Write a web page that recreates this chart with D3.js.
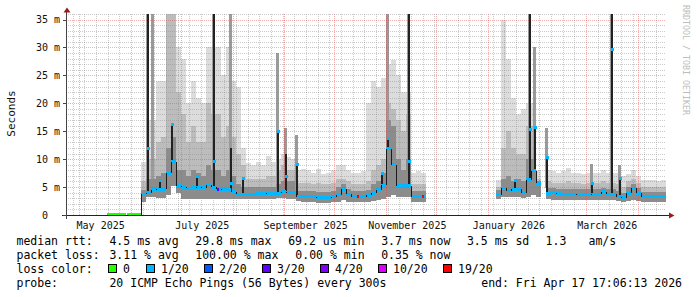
<!DOCTYPE html>
<html><head><meta charset="utf-8">
<script src="https://cdn.jsdelivr.net/npm/d3@7"></script>
<style>html,body{margin:0;padding:0;background:#fff}svg{display:block}text{font-family:"DejaVu Sans Mono",monospace}</style>
</head><body><svg id="c" width="697" height="297"></svg>
<script>
// ---- data ----
const startTime = "2025-04-22T17:06:13Z";
const endTime = "2026-04-17T17:06:13Z";
const firstColumn = "2025-06-06T12:00:00Z";
const columnDays = 3;
const N = null;
const median = [3.7,4.0,4.5,4.6,4.6,7.5,9.5,5.2,5.0,4.8,
 4.9,5.0,4.9,5.4,5.0,4.6,4.5,4.5,4.2,3.7,
 3.7,3.7,3.7,3.8,3.8,3.9,3.9,3.9,4.2,4.0,
 4.0,3.3,3.3,3.3,3.3,3.1,3.1,3.1,3.3,3.6,
 4.6,3.7,3.3,3.3,3.3,3.5,3.9,4.5,5.3,11.9,
 9,5.2,5.2,5.2,3.3,3.3,3.3,
 N,N,N,N,N,N,N,N,N,N,N,N,N,N,
 3.6,4.8,4.3,4.6,4.6,4.0,6.3,7.9,5.7,
 N,
 3.9,4.0,3.8,3.7,3.7,3.7,3.6,3.6,3.6,
 3.7,3.7,4.2,3.7,3.7,3.3,3.1,3.9,4.8,3.9,
 3.3,3.3,3.3,3.3,3.3,3.3];
const smokeLow = [2.4,3.2,3.2,3.0,3.0,3.5,5.2,4.0,2.8,2.8,
 2.8,2.8,2.8,2.8,2.8,2.8,2.8,2.8,2.8,2.8,
 2.8,2.8,2.8,2.8,2.8,2.8,2.8,3.0,3.0,2.8,
 2.8,2.5,2.3,2.3,2.3,2.2,2.2,2.2,2.3,2.4,
 2.6,2.4,2.3,2.3,2.3,2.4,2.5,2.7,2.8,3.2,
 3.5,3.3,3.3,3.3,2.4,2.4,2.4,
 N,N,N,N,N,N,N,N,N,N,N,N,N,N,
 2.8,3.2,3.2,3.2,3.2,3.0,3.2,3.5,3.2,
 N,
 2.8,2.6,2.6,2.6,2.6,2.6,2.6,2.6,2.6,
 2.6,2.6,2.6,2.6,2.6,2.5,2.4,2.5,2.6,2.5,
 2.4,2.4,2.4,2.4,2.4,2.4];
const smokeDark = [4.5,6.5,6.5,7,7.5,12,14,8,8,7,
 8,7.5,7,9,8,8,7,8,7,5.5,
 5,5,5,5,5,5,5,5.5,6,6,
 6,4.3,4.3,4.3,4.3,4.2,4.2,4.2,4.3,5,
 5.5,4.6,4.3,4.3,4.3,4.5,5.5,6,7.5,17,
 16,10,8,10,4.3,4.3,4.3,
 N,N,N,N,N,N,N,N,N,N,N,N,N,N,
 4.5,6.5,7,6,6.5,6,10,10,6,
 N,
 4.8,4.8,4.7,4.7,4.7,4.7,4.6,4.6,4.6,
 4.6,4.6,4.8,4.6,4.6,4.3,4.0,5,5.5,4.8,
 4.2,4.2,4.2,4.2,4.2,4.2];
const smokeMid = [6,10,10,13,14,36,36,22,18,13,
 16,13,13,20,18,18,14,16,14,11,
 9,6.5,6.5,6.5,6.5,7,7,8,9,8,
 8,5.7,5.7,5.7,5.6,5.8,5.5,5.6,5.7,6.5,
 6.5,6,5.5,5.5,5.5,6,8,9,10,20,
 19,17,15,18,5.5,5.6,5.5,
 N,N,N,N,N,N,N,N,N,N,N,N,N,N,
 5,12,15,12,11,11,16,16,6.5,
 N,
 6,5.8,5.8,5.8,6,5.8,5.7,5.6,5.7,
 5.7,5.7,6,5.7,5.7,5.5,5,6,6.5,5.8,
 5,5,5,5,5,5];
const smokeHigh = [9.5,17,17,24,24,36,36,30,28,20,
 24,21,20,30,30,30,25,30,24,23,
 12,9.3,9,9.5,9,10.5,9.5,10,11,10.4,
 10,8,8.3,8.0,7.5,8.2,7.3,7.6,8.0,9,
 9,8,7.5,7.5,7.8,20,24,23,24.5,27,
 27.7,25,22,22,7.5,7.8,7.5,
 N,N,N,N,N,N,N,N,N,N,N,N,N,N,
 6.3,35,28,21,18,19,20,20,8,
 N,
 8,7.8,7.5,7.8,8.4,7.5,7.5,7.3,7.5,
 7.5,7.5,8,7.5,7.5,7.5,7,7.3,8,7,
 6.3,6.2,6.3,6.0,6.2,6.2];
// short-lived spikes (narrower than a column)
const spikeDates = ["2025-06-10T12:00Z","2025-06-13T12:00Z","2025-06-17T14:00Z","2025-06-24T14:00Z","2025-07-09T14:00Z",
 "2025-07-20T02:00Z","2025-07-30T00:00Z","2025-08-06T05:00Z","2025-08-27T12:00Z","2025-09-01T00:00Z","2025-09-07T14:00Z",
 "2025-10-28T14:00Z","2025-11-01T05:00Z","2025-11-14T02:00Z","2026-01-16T17:00Z","2026-01-25T17:00Z","2026-01-28T17:00Z",
 "2026-02-04T14:00Z","2026-03-03T14:00Z","2026-03-15T14:00Z","2026-03-20T17:00Z"];
const spikeMedian = [12,N,6.3,16.3,7.0,9.7,5.8,6.6,15,7,9.2,7.5,13.7,9.7,6.3,15.4,15.7,10.4,5.8,29.8,6.6];
const spikeDark = [36,N,6.3,16.3,7.0,36,12,6.6,15,11,9.2,7.5,14,36,6.3,36,15.7,10.4,5.8,36,6.6];
const spikeGray = [36,36,N,N,N,36,36,N,29,15.5,14.3,N,36,36,N,36,30,15.5,9.2,36,9];
const lossMarks = [[15,3],[43,6],[56,6]];   // [column, loss class]
const zeroLossSpans = [["2025-05-17T12:00:00Z","2025-05-29T00:00:00Z"],["2025-05-29T14:00:00Z","2025-06-06T12:00:00Z"]];
const yTicks = [0,5,10,15,20,25,30,35];
const yTickLabels = ["0","5 m","10 m","15 m","20 m","25 m","30 m","35 m"];
const monthLabelDates = ["2025-05-01","2025-07-01","2025-09-01","2025-11-01","2026-01-01","2026-03-01"];
const monthLabels = ["May 2025","July 2025","September 2025","November 2025","January 2026","March 2026"];
const lossLegend = ["0","1/20","2/20","3/20","4/20","10/20","19/20"];
const lossColors = ["#26ff00","#00b8ff","#0059ff","#5e00ff","#7e00ff","#dd00ff","#ff0000"];
const rttStats = ["4.5 ms avg","29.8 ms max","69.2 us min","3.7 ms now","3.5 ms sd","1.3","am/s"];
const lossStats = ["3.11 % avg","100.00 % max","0.00 % min","0.35 % now"];
const probeText = "20 ICMP Echo Pings (56 Bytes) every 300s";
const endText = "end: Fri Apr 17 17:06:13 2026";

// ---- layout ----
const svg = d3.select("#c");
const L = 66, R = 666, TOP = 14, BOT = 215;
const x = d3.scaleUtc().domain([d3.isoParse(startTime), d3.isoParse(endTime)]).range([L, R]);
const y = d3.scaleLinear().domain([0, 35]).range([BOT, 19.5]);
const DAY = 864e5;
const c0 = +d3.isoParse(firstColumn);
const cols = median.map((m, i) => ({i, m, lo: smokeLow[i], dk: smokeDark[i], mid: smokeMid[i], hi: smokeHigh[i],
  a: new Date(c0 + i * columnDays * DAY), b: new Date(c0 + (i + 1) * columnDays * DAY)})).filter(d => d.m != null);
const px = t => Math.round(x(t));
const colAt = t => cols.find(c => +t >= +c.a && +t < +c.b);

svg.append("defs").append("clipPath").attr("id", "plot").append("rect")
  .attr("x", L).attr("y", TOP).attr("width", R - L).attr("height", BOT - TOP);

const g = svg.append("g").attr("clip-path", "url(#plot)").attr("shape-rendering", "crispEdges");
[["hi", "#dcdcdc"], ["mid", "#bcbcbc"], ["dk", "#8c8c8c"]].forEach(([k, c]) => {
  g.selectAll(null).data(cols).join("rect")
    .attr("x", d => px(d.a)).attr("width", d => px(d.b) - px(d.a))
    .attr("y", d => y(d[k])).attr("height", d => y(d.lo) - y(d[k])).attr("fill", c);
});
const spikes = spikeDates.map((s, i) => ({t: d3.isoParse(s), m: spikeMedian[i], dark: spikeDark[i], gray: spikeGray[i]}))
  .map(d => Object.assign(d, {col: colAt(d.t)}));
g.selectAll(null).data(spikes.filter(d => d.gray != null)).join("rect")
  .attr("x", d => px(d.t) - 1).attr("width", 3).attr("y", d => y(d.gray))
  .attr("height", d => y(d.col.dk) - y(d.gray)).attr("fill", "#9a9a9a");

// grid
const grid = svg.append("g").attr("shape-rendering", "crispEdges");
const minorY = d3.range(1, 37).filter(v => v % 5 !== 0);
grid.selectAll(null).data(minorY).join("line")
  .attr("x1", L).attr("x2", R).attr("y1", d => Math.round(y(d)) + 0.5).attr("y2", d => Math.round(y(d)) + 0.5)
  .attr("stroke", "rgba(140,140,140,0.45)").attr("stroke-dasharray", "1,1");
const weeks = d3.utcSunday.range(x.domain()[0], x.domain()[1]).filter(d => d.getUTCDate() !== 1);
grid.selectAll(null).data(weeks).join("line")
  .attr("x1", d => Math.floor(x(d)) + 0.5).attr("x2", d => Math.floor(x(d)) + 0.5).attr("y1", TOP).attr("y2", BOT)
  .attr("stroke", "rgba(140,140,140,0.45)").attr("stroke-dasharray", "1,1");
grid.selectAll(null).data(yTicks.slice(1)).join("line")
  .attr("x1", L).attr("x2", R).attr("y1", d => Math.round(y(d)) + 0.5).attr("y2", d => Math.round(y(d)) + 0.5)
  .attr("stroke", "rgba(225,70,70,0.42)").attr("stroke-dasharray", "1,1");
const months = d3.utcMonth.range(x.domain()[0], x.domain()[1]);
grid.selectAll(null).data(months).join("line")
  .attr("x1", d => Math.floor(x(d)) + 0.5).attr("x2", d => Math.floor(x(d)) + 0.5).attr("y1", TOP).attr("y2", BOT)
  .attr("stroke", "rgba(225,70,70,0.42)").attr("stroke-dasharray", "1,1");

// median
const med = svg.append("g").attr("clip-path", "url(#plot)").attr("shape-rendering", "crispEdges");
med.selectAll(null).data(spikes.filter(d => d.dark != null)).join("rect")
  .attr("x", d => px(d.t)).attr("width", 2).attr("y", d => y(d.dark))
  .attr("height", d => y(d.col.m) - y(d.dark)).attr("fill", "#222");
med.selectAll(null).data(cols).join("line")
  .attr("x1", d => px(d.a)).attr("x2", d => px(d.b)).attr("y1", d => y(d.m)).attr("y2", d => y(d.m))
  .attr("stroke", lossColors[1]).attr("stroke-width", 3);
const links = [];
cols.forEach((d, k) => { const n = cols[k + 1]; if (n && n.i === d.i + 1) links.push([d, n]); });
med.selectAll(null).data(links).join("line")
  .attr("x1", d => px(d[0].b) + 0.5).attr("x2", d => px(d[0].b) + 0.5)
  .attr("y1", d => y(d[0].m)).attr("y2", d => y(d[1].m)).attr("stroke", "#1c1c1c").attr("stroke-width", 1);
med.append("line").attr("x1", px(cols[0].a) + 0.5).attr("x2", px(cols[0].a) + 0.5)
  .attr("y1", y(0)).attr("y2", y(cols[0].m)).attr("stroke", "#1c1c1c");
med.selectAll(null).data(spikes.filter(d => d.m != null)).join("rect")
  .attr("x", d => px(d.t) - 0.5).attr("width", 3).attr("y", d => Math.round(y(d.m)) - 1).attr("height", 3)
  .attr("fill", lossColors[1]);
med.selectAll(null).data(lossMarks).join("rect")
  .attr("x", d => px(cols.find(c => c.i === d[0]).a) + 1).attr("width", 2)
  .attr("y", d => y(median[d[0]]) - 1.5).attr("height", 3).attr("fill", d => lossColors[d[1]]);
svg.selectAll(null).data(zeroLossSpans).join("line")
  .attr("x1", d => px(d3.isoParse(d[0]))).attr("x2", d => px(d3.isoParse(d[1])))
  .attr("y1", y(0) - 1).attr("y2", y(0) - 1).attr("stroke", lossColors[0]).attr("stroke-width", 2);

// axes
const ax = svg.append("g").attr("shape-rendering", "crispEdges");
ax.append("line").attr("x1", 62).attr("x2", 669).attr("y1", BOT + 0.5).attr("y2", BOT + 0.5).attr("stroke", "#222");
ax.append("line").attr("x1", L + 0.5).attr("x2", L + 0.5).attr("y1", 11).attr("y2", BOT + 4).attr("stroke", "#444");
svg.append("path").attr("d", "M669,212.5L674.5,215.5L669,218.5Z").attr("fill", "#9b1c1c");
svg.append("path").attr("d", "M63.5,12.5L67,7.5L70.5,12.5Z").attr("fill", "#9b1c1c");
ax.selectAll(null).data(yTicks).join("line")
  .attr("x1", L - 3).attr("x2", L).attr("y1", d => Math.round(y(d)) + 0.5).attr("y2", d => Math.round(y(d)) + 0.5).attr("stroke", "#444");

svg.selectAll(null).data(yTicks).join("text")
  .attr("x", (d, i) => 60 - 6 * (yTickLabels[i].length === 1 ? 2 : 0))
  .attr("y", d => y(d)).attr("dy", "0.36em").attr("text-anchor", "end")
  .attr("font-size", 10).attr("fill", "#111").text((d, i) => yTickLabels[i]);
svg.selectAll(null).data(monthLabelDates).join("text")
  .attr("x", d => x(new Date(+d3.isoParse(d + "T00:00:00Z") + 12.5 * DAY))).attr("y", 228.5)
  .attr("text-anchor", "middle").attr("font-size", 10).attr("fill", "#111").text((d, i) => monthLabels[i]);
svg.append("text").attr("transform", "translate(15,113.5) rotate(-90)").attr("text-anchor", "middle")
  .attr("font-size", 11).attr("fill", "#111").text("Seconds");
svg.append("text").attr("transform", "translate(683,5) rotate(90)").attr("font-size", 8.3)
  .attr("fill", "#bdbdbd").text("RRDTOOL / TOBI OETIKER");

// legend (monospace character grid)
const FS = 11.5, CW = 7.15, LX = 16.5;
const lg = svg.append("g").attr("font-size", FS).attr("fill", "#000");
const put = (txt, col, yy) => lg.append("text").attr("x", LX + col * CW).attr("y", yy).text(txt);
put("median rtt:", 0, 245);
[13, 25, 38, 51, 63, 74, 80].forEach((c, i) => put(rttStats[i], c, 245));
put("packet loss:", 0, 259);
[13, 25, 39, 51].forEach((c, i) => put(lossStats[i], c, 259));
put("loss color:", 0, 273);
const boxX = [108, 146, 204, 262, 320, 378, 443];
lossLegend.forEach((s, i) => {
  lg.append("rect").attr("x", boxX[i] + 0.5).attr("y", 264.5).attr("width", 8).attr("height", 8)
    .attr("fill", lossColors[i]).attr("stroke", "#000").attr("stroke-width", 1);
  lg.append("text").attr("x", boxX[i] + 15).attr("y", 273).text(s);
});
put("probe:", 0, 287);
put(probeText, 13, 287);
put(endText, 65, 287);
</script></body></html>
